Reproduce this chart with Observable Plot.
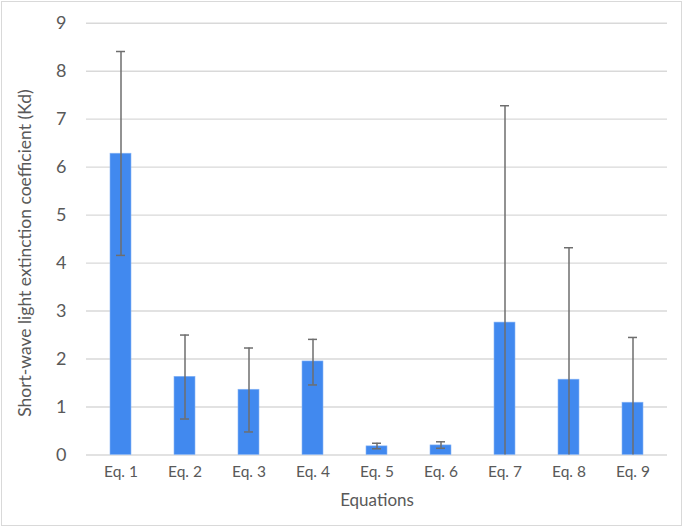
<!DOCTYPE html>
<html>
<head>
<meta charset="utf-8">
<script src="https://cdn.jsdelivr.net/npm/d3@7"></script>
<script src="https://cdn.jsdelivr.net/npm/@observablehq/plot@0.6"></script>
<style>
  html, body { margin: 0; padding: 0; background: #fff; }
  #wrap { position: relative; width: 685px; height: 529px; }
  #frame { position: absolute; left: 1px; top: 1px; width: 681px; height: 525px; border: 1.5px solid #d9d9d9; box-sizing: border-box; pointer-events: none; }
  #chart { position: absolute; left: 0; top: 0; }
</style>
</head>
<body>
<div id="wrap"><div id="chart"></div><div id="frame"></div></div>
<script>
const categories = ["Eq. 1", "Eq. 2", "Eq. 3", "Eq. 4", "Eq. 5", "Eq. 6", "Eq. 7", "Eq. 8", "Eq. 9"];
const values   = [6.28, 1.63, 1.36, 1.95, 0.18, 0.20, 2.76, 1.57, 1.09];
const errLow   = [4.16, 0.75, 0.48, 1.46, 0.13, 0.14, 0, 0, 0];
const errHigh  = [8.41, 2.50, 2.23, 2.41, 0.245, 0.275, 7.28, 4.32, 2.45];
const yTicks = [0, 1, 2, 3, 4, 5, 6, 7, 8, 9];
const xTitle = "Equations";
const yTitle = "Short-wave light extinction coefficient (Kd)";

const data = categories.map((c, i) => ({cat: c, value: values[i], low: errLow[i], high: errHigh[i]}));

const W = 685, H = 529;
const mL = 86, mR = 18, mT = 22.7, mB = 74.5;
const padInner = 0.675;
const step = (W - mL - mR) / categories.length;
const bandW = step * (1 - padInner);
const capW = 9;
const capInset = (bandW - capW) / 2;
const errColor = "#6e6e6e";
const textColor = "#595959";
const font = "Lato, 'Open Sans', sans-serif";

const chart = Plot.plot({
  width: W,
  height: H,
  marginLeft: mL,
  marginRight: mR,
  marginTop: mT,
  marginBottom: mB,
  style: {fontFamily: font, background: "transparent", overflow: "visible"},
  x: {type: "band", domain: categories, paddingInner: padInner, paddingOuter: padInner / 2, axis: null},
  y: {domain: [0, 9], axis: null},
  marks: [
    Plot.ruleY(yTicks, {y: d => d, stroke: "#d9d9d9", strokeWidth: 1.4}),
    Plot.barY(data, {x: "cat", y: "value", fill: "#4189ef", stroke: "#8ab6f5", strokeWidth: 0.6}),
    Plot.ruleX(data, {x: "cat", y1: "low", y2: "high", stroke: errColor, strokeWidth: 1.5}),
    Plot.tickY(data, {x: "cat", y: "high", stroke: errColor, strokeWidth: 1.5, insetLeft: capInset, insetRight: capInset}),
    Plot.tickY(data.filter(d => d.low > 0), {x: "cat", y: "low", stroke: errColor, strokeWidth: 1.5, insetLeft: capInset, insetRight: capInset}),
    Plot.text(yTicks, {y: d => d, text: d => String(d), frameAnchor: "left", dx: -20, textAnchor: "end", fill: textColor, fontSize: 18}),
    Plot.text(categories, {x: d => d, text: d => d, frameAnchor: "bottom", dy: 21.5, fill: textColor, fontSize: 15.5}),
    Plot.text([xTitle], {text: d => d, frameAnchor: "bottom", dy: 50.5, fill: textColor, fontSize: 17}),
    Plot.text([yTitle], {text: d => d, frameAnchor: "left", dx: -61, dy: 14, rotate: -90, textAnchor: "middle", fill: textColor, fontSize: 17.5})
  ]
});
document.getElementById("chart").appendChild(chart);
</script>
</body>
</html>
